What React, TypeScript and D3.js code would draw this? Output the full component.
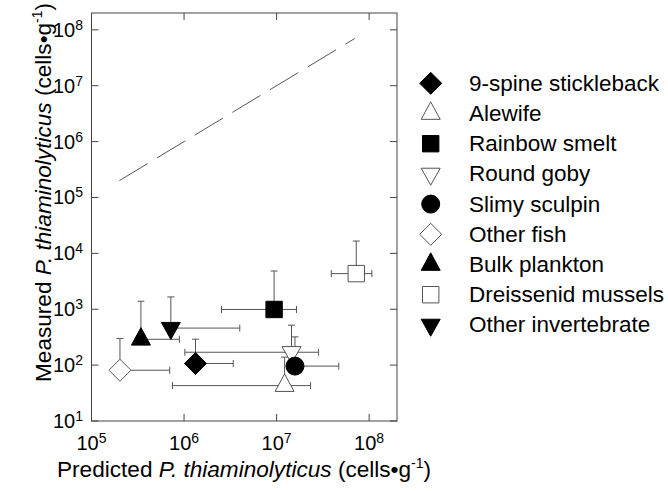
import React from "react";
import * as d3 from "d3";

const species = [
  "9-spine stickleback",
  "Alewife",
  "Rainbow smelt",
  "Round goby",
  "Slimy sculpin",
  "Other fish",
  "Bulk plankton",
  "Dreissenid mussels",
  "Other invertebrate",
];
const shapes = ["diamond", "triangle", "square", "triangleDown", "circle", "diamond", "triangle", "square", "triangleDown"];
const filled = [true, false, true, false, true, false, true, false, true];
const predicted = [1.33e6, 1.22e7, 9.4e6, 1.45e7, 1.58e7, 2.03e5, 3.42e5, 7.26e7, 7.2e5];
const measured = [107, 43, 990, 170, 96, 81, 290, 4340, 460];
const predLo: (number | null)[] = [null, 7.5e5, 2.54e6, 1.02e6, null, null, null, 3.9e7, null];
const predHi = [3.4e6, 2.33e7, 1.64e7, 2.84e7, 4.7e7, 7.0e5, 8.9e5, 1.07e8, 4.0e6];
const measHi = [291, 139, 4830, 518, 320, 300, 1390, 16600, 1660];

const xTicks = [1e5, 1e6, 1e7, 1e8];
const yTicks = [1e1, 1e2, 1e3, 1e4, 1e5, 1e6, 1e7, 1e8];
const oneToOne = [2e5, 7e7];

const FONT = "'Liberation Sans', Arial, Helvetica, sans-serif";

function shapePath(s: string): string {
  switch (s) {
    case "diamond":
      return "M0,-11L11,0L0,11L-11,0Z";
    case "square":
      return "M-8.2,-8.2H8.2V8.2H-8.2Z";
    case "circle":
      return "M9,0A9,9 0 1,1 -9,0A9,9 0 1,1 9,0Z";
    case "triangle": {
      const h = 17.5, w = 19;
      return `M0,${-2 * h / 3}L${w / 2},${h / 3}L${-w / 2},${h / 3}Z`;
    }
    case "triangleDown": {
      const h = 17, w = 19;
      return `M0,${2 * h / 3}L${w / 2},${-h / 3}L${-w / 2},${-h / 3}Z`;
    }
  }
  return "";
}

function Marker({ i, x, y }: { i: number; x: number; y: number }) {
  return (
    <path
      d={shapePath(shapes[i])}
      transform={`translate(${x},${y})`}
      fill={filled[i] ? "#000" : "#fff"}
      stroke={filled[i] ? "#000" : "#555"}
      strokeWidth={1}
    />
  );
}

export default function App() {
  const left = 91.5, right = 397, top = 13, bottom = 421;
  const x = d3.scaleLog().domain([1e5, 2e8]).range([left, right]);
  const y = d3.scaleLog().domain([10, 2e8]).range([bottom, top]);
  const tl = 7;
  const cap = 3.5;
  const ebColor = "#555";
  const exp = (v: number) => Math.round(Math.log10(v));

  return (
    <svg width={668} height={491} style={{ position: "absolute", left: 0, top: 0, background: "#fff" }} fontFamily={FONT}>
      <rect x={0} y={0} width={668} height={491} fill="#fff" />
      {/* 1:1 line */}
      <line
        x1={x(oneToOne[0])}
        y1={y(oneToOne[0])}
        x2={x(oneToOne[1])}
        y2={y(oneToOne[1])}
        stroke="#555"
        strokeWidth={1}
        strokeDasharray="33,11"
      />
      {/* frame */}
      <rect x={left} y={top} width={right - left} height={bottom - top} fill="none" stroke="#444" strokeWidth={1} />
      {xTicks.map((t) => (
        <g key={"xt" + t}>
          <line x1={x(t)} x2={x(t)} y1={bottom} y2={bottom - tl} stroke="#444" />
          <line x1={x(t)} x2={x(t)} y1={top} y2={top + tl} stroke="#444" />
          <text x={x(t)} y={450} textAnchor="middle" fontSize={20} fill="#000">
            10<tspan fontSize={14} dy={-7}>{exp(t)}</tspan>
          </text>
        </g>
      ))}
      {yTicks.map((t) => (
        <g key={"yt" + t}>
          <line x1={left} x2={left + tl} y1={y(t)} y2={y(t)} stroke="#444" />
          <line x1={right} x2={right - tl} y1={y(t)} y2={y(t)} stroke="#444" />
          <text x={83} y={y(t) + 7} textAnchor="end" fontSize={20} fill="#000">
            10<tspan fontSize={14} dy={-7}>{exp(t)}</tspan>
          </text>
        </g>
      ))}
      {/* error bars */}
      {species.map((_, i) => {
        const cx = x(predicted[i]);
        const cy = y(measured[i]);
        const hi = x(predHi[i]);
        const lo = predLo[i] != null ? x(predLo[i] as number) : null;
        const yh = y(measHi[i]);
        return (
          <g key={"eb" + i} stroke={ebColor} strokeWidth={1}>
            <line x1={cx} x2={hi} y1={cy} y2={cy} />
            <line x1={hi} x2={hi} y1={cy - cap} y2={cy + cap} />
            {lo != null && (
              <>
                <line x1={cx} x2={lo} y1={cy} y2={cy} />
                <line x1={lo} x2={lo} y1={cy - cap} y2={cy + cap} />
              </>
            )}
            <line x1={cx} x2={cx} y1={cy} y2={yh} />
            <line x1={cx - cap} x2={cx + cap} y1={yh} y2={yh} />
          </g>
        );
      })}
      {species.map((_, i) => (
        <Marker key={"m" + i} i={i} x={x(predicted[i])} y={y(measured[i])} />
      ))}
      {/* legend */}
      {species.map((s, i) => {
        const ly = 83.3 + i * 30.2;
        return (
          <g key={"lg" + i}>
            <Marker i={i} x={430.7} y={ly} />
            <text x={469} y={ly + 7.5} fontSize={22.5} fill="#000">
              {s}
            </text>
          </g>
        );
      })}
      {/* axis titles */}
      <text x={57} y={477} fontSize={22.6} fill="#000">
        Predicted <tspan fontStyle="italic">P. thiaminolyticus</tspan> (cells•g
        <tspan fontSize={14} dy={-9}>-1</tspan>
        <tspan dy={9}>)</tspan>
      </text>
      <text transform="translate(51,382) rotate(-90)" x={0} y={0} fontSize={22.6} fill="#000">
        Measured <tspan fontStyle="italic">P. thiaminolyticus</tspan> (cells•g
        <tspan fontSize={14} dy={-9}>-1</tspan>
        <tspan dy={9}>)</tspan>
      </text>
    </svg>
  );
}
